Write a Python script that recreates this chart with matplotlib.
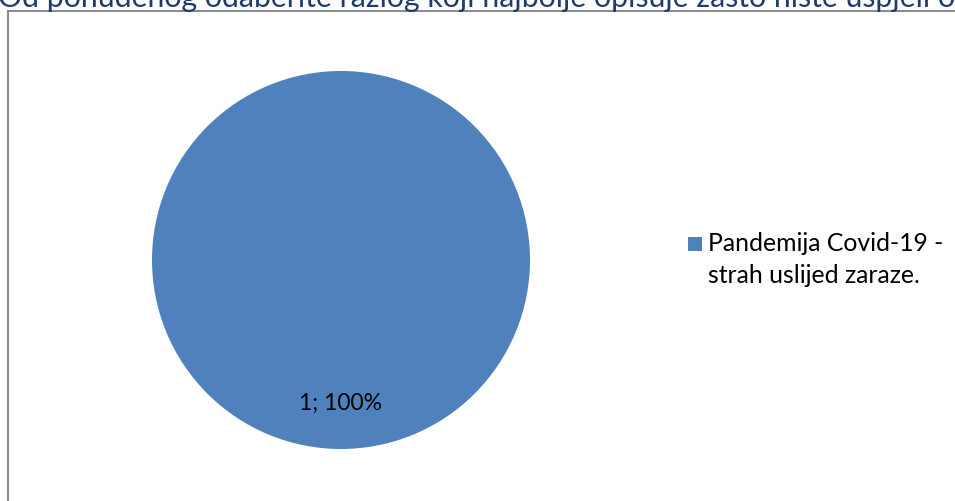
import matplotlib
matplotlib.use("Agg")
import matplotlib.pyplot as plt
from matplotlib.patches import Rectangle

title = "Od ponuđenog odaberite razlog koji najbolje opisuje zašto niste uspjeli ostvariti"
categories = ["Pandemija Covid-19 -\nstrah uslijed zaraze."]
values = [1]
colors = ["#4F81BD"]

W, H = 955, 501
fig = plt.figure(figsize=(W / 100, H / 100), dpi=100)
fig.patch.set_facecolor("white")

FONT = ["Lato", "DejaVu Sans"]

# chart frame
fig.patches.append(Rectangle((7.5 / W, -0.1), 1.2, (H - 10.5) / H + 0.1,
                             transform=fig.transFigure, fill=False,
                             edgecolor="#8C8C8C", linewidth=1.5))

# title (clipped at the top like the reference)
fig.text(-2 / W, (H - 6.5) / H, title, family=FONT, fontsize=21.8,
         color="#1F3B6E", ha="left", va="baseline")

# pie axes
cx, cy, r = 341, 260, 189
ax = fig.add_axes([(cx - r) / W, (H - cy - r) / H, 2 * r / W, 2 * r / H])
total = sum(values)
wedges, texts, autotexts = ax.pie(
    values, colors=colors, startangle=90, counterclock=False, radius=1,
    autopct=lambda p: f"{round(p * total / 100)}; {p:.0f}%", pctdistance=0.76,
    textprops=dict(family=FONT, fontsize=16.5, color="#000000"))
ax.set_xlim(-1, 1)
ax.set_ylim(-1, 1)
ax.set_aspect("auto")
ax.axis("off")

# legend (Excel style: marker aligned with the first text line)
for i, (cat, col) in enumerate(zip(categories, colors)):
    fig.patches.append(Rectangle((688 / W, (H - 251) / H), 14 / W, 14 / H,
                                 transform=fig.transFigure, facecolor=col,
                                 edgecolor="none"))
    for j, line in enumerate(cat.split("\n")):
        fig.text(708 / W, (H - 251 - 32 * j) / H, line, family=FONT,
                 fontsize=17.8, color="#000000", ha="left", va="baseline")

fig.savefig("out.png", dpi=100)
